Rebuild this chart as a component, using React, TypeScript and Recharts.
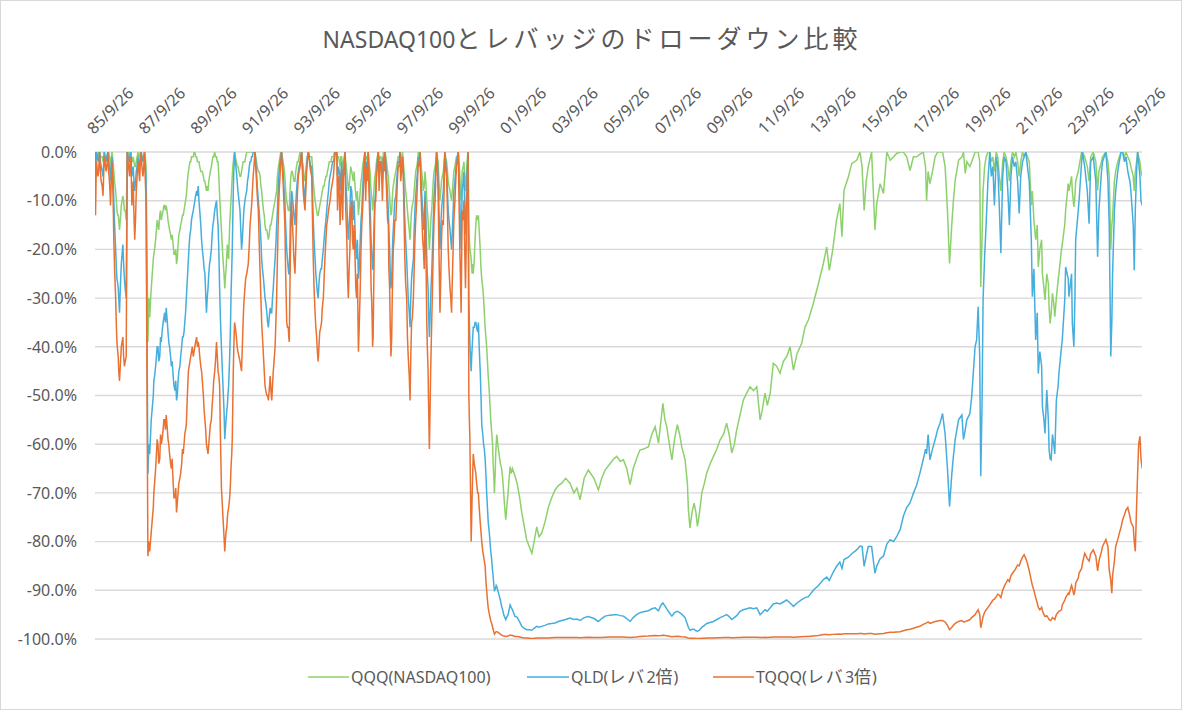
import React from 'react';
import { LineChart, Line, XAxis, YAxis, CartesianGrid } from 'recharts';

const FONT = "'Noto Sans', 'Noto Sans CJK JP', sans-serif";
const GREEN = '#8dd16c';
const BLUE = '#45aedd';
const ORANGE = '#e97132';
const TEXT = '#595959';

const dates = [
  1985.74,1985.76,1985.80,1985.86,1985.92,1985.98,1986.05,1986.10,1986.17,1986.24,
  1986.30,1986.34,1986.40,1986.47,1986.54,1986.59,1986.64,1986.69,1986.76,1986.82,
  1986.88,1986.95,1986.99,1987.04,1987.08,1987.13,1987.17,1987.22,1987.28,1987.34,
  1987.41,1987.47,1987.53,1987.60,1987.66,1987.72,
  1987.79,1987.83,1987.86,1987.92,1988.00,1988.05,1988.12,1988.18,1988.25,1988.31,
  1988.38,1988.44,1988.50,1988.57,1988.63,1988.70,1988.77,1988.84,1988.90,1988.96,
  1989.03,1989.10,1989.16,1989.22,1989.28,1989.36,1989.42,1989.48,1989.55,1989.61,
  1989.68,1989.74,1989.80,1989.87,1989.94,1990.00,1990.06,1990.12,1990.18,1990.25,
  1990.31,1990.38,1990.45,1990.51,1990.57,1990.64,1990.70,1990.77,1990.82,1990.87,
  1990.92,1990.96,1991.01,1991.06,1991.10,1991.15,1991.22,1991.28,1991.36,1991.42,
  1991.48,1991.55,1991.62,1991.68,1991.75,1991.81,1991.87,1991.94,
  1992.00,1992.07,1992.14,1992.20,1992.27,1992.33,1992.40,1992.46,1992.53,1992.59,
  1992.65,1992.72,1992.78,1992.81,1992.85,1992.91,1992.97,1993.03,1993.10,1993.17,
  1993.23,1993.27,1993.31,1993.36,1993.42,1993.49,1993.55,1993.62,1993.69,1993.75,
  1993.81,1993.88,1993.94,1994.01,1994.07,1994.14,1994.20,1994.27,1994.33,1994.39,
  1994.45,1994.52,1994.59,1994.65,1994.72,1994.79,1994.85,1994.92,1994.98,1995.05,
  1995.11,1995.18,1995.24,1995.30,1995.37,1995.43,1995.50,1995.56,1995.62,1995.69,
  1995.75,1995.82,1995.88,1995.95,1996.02,1996.08,1996.14,1996.20,1996.27,1996.33,
  1996.38,1996.42,1996.46,1996.50,1996.55,1996.59,1996.65,1996.72,1996.78,1996.85,
  1996.92,1996.98,1997.04,1997.11,1997.16,1997.21,1997.26,1997.30,1997.36,1997.43,
  1997.49,1997.56,1997.62,1997.69,1997.75,1997.82,1997.88,1997.95,1998.01,1998.08,
  1998.14,1998.21,1998.27,1998.34,1998.40,1998.47,1998.53,1998.60,1998.65,1998.70,
  1998.75,1998.79,1998.85,1998.92,1998.98,1999.04,1999.11,1999.17,1999.24,1999.30,
  1999.37,1999.43,1999.50,1999.56,1999.62,1999.69,1999.75,1999.82,1999.88,1999.93,
  1999.97,2000.04,2000.10,2000.15,2000.20,
  2000.23,2000.27,2000.32,2000.36,2000.40,2000.47,2000.53,2000.60,2000.67,2000.73,
  2000.80,2000.86,2000.92,2000.98,2001.05,2001.12,2001.17,2001.22,2001.27,2001.31,
  2001.40,2001.50,2001.58,2001.66,2001.75,2001.83,2001.92,2002.02,2002.10,2002.20,
  2002.28,2002.38,2002.47,2002.57,2002.67,2002.76,2002.86,2002.95,2003.05,2003.18,
  2003.31,2003.44,2003.57,2003.70,2003.83,2003.98,2004.15,2004.30,2004.42,2004.54,
  2004.70,2004.86,
  2005.08,2005.25,2005.38,2005.51,2005.70,2005.85,2005.96,2006.10,2006.22,2006.35,
  2006.48,2006.60,2006.73,2006.86,2007.00,2007.19,2007.32,2007.45,2007.58,2007.68,
  2007.75,2007.83,2007.90,2008.00,2008.10,2008.20,2008.31,2008.40,2008.48,2008.61,
  2008.70,2008.74,2008.80,2008.88,2008.96,2009.03,2009.09,2009.17,2009.26,2009.36,
  2009.45,2009.58,2009.71,2009.84,2009.97,2010.10,2010.22,2010.32,2010.42,2010.52,
  2010.61,2010.74,2010.87,2011.00,2011.13,2011.26,2011.39,2011.52,2011.60,2011.71,
  2011.80,2011.91,2012.03,2012.16,2012.29,2012.42,2012.55,2012.68,2012.81,2012.95,
  2013.13,2013.26,2013.39,2013.58,2013.78,2013.97,2014.10,2014.20,2014.33,2014.48,
  2014.61,2014.69,2014.77,2014.94,2015.07,2015.26,2015.39,2015.47,2015.55,2015.63,
  2015.71,2015.84,2015.97,2016.04,2016.17,2016.30,2016.43,2016.56,2016.69,2016.81,
  2016.95,2017.07,2017.20,2017.33,2017.46,2017.58,2017.71,2017.84,2017.93,2017.97,
  2018.03,2018.10,2018.20,2018.30,2018.40,2018.49,2018.59,2018.69,2018.78,2018.86,
  2018.95,2019.01,2019.08,2019.21,2019.34,2019.40,2019.47,2019.53,2019.65,2019.72,
  2019.85,2019.91,2019.97,
  2020.03,2020.07,2020.12,2020.16,2020.22,2020.28,2020.35,2020.42,2020.48,2020.54,
  2020.60,2020.67,2020.73,2020.79,2020.85,2020.92,2020.98,2021.05,2021.12,2021.18,
  2021.24,2021.30,2021.37,2021.43,2021.50,2021.56,2021.62,2021.69,2021.75,2021.82,
  2021.88,2021.95,2022.03,2022.07,2022.13,2022.20,2022.26,2022.30,2022.36,2022.43,
  2022.46,2022.52,2022.56,2022.63,2022.69,2022.72,2022.76,2022.80,2022.85,2022.90,
  2022.94,2023.00,2023.07,2023.10,2023.20,2023.23,2023.33,2023.36,2023.46,2023.49,
  2023.59,2023.62,2023.68,2023.72,2023.75,2023.85,2023.88,2023.98,2024.01,2024.10,
  2024.20,2024.27,2024.33,2024.43,2024.53,2024.60,2024.65,2024.75,2024.79,2024.92,
  2025.00,2025.05,2025.11,2025.15,2025.18,2025.25,2025.30,2025.38,2025.44,2025.51,
  2025.57,2025.64,2025.70,2025.77,2025.85,2025.89,2025.98,2026.02,2026.06,2026.11,
  2026.15,2026.19,2026.24,2026.28,2026.33,
];

const qqq = [
  0,-2,0,-1,0,-1,-2,0,-1,0,
  -1,-3,0,-4,-8,-12,-13,-16,-11,-9,
  -12,-14,0,0,-1,0,-2,-1,-3,-2,
  0,-1,0,-1,0,-3,
  -39,-30,-34,-28,-22,-20,-16,-15,-13,-14,
  -12,-11,-11,-14,-16,-18,-19,-21,-23,-19,
  -16,-14,-13,-11,-9,-4,-2,-1,-1,0,
  -1,-2,-3,-4,-5,-6,-8,-8,-5,-3,
  -1,0,-1,-2,-9,-16,-22,-28,-24,-19,
  -22,-15,-10,-5,-2,0,-2,-3,-5,-4,
  -2,-2,0,0,0,0,0,0,
  -2,-4,-5,-8,-12,-15,-16,-18,-15,-14,
  -12,-10,-8,-5,-3,-1,0,-2,-5,-10,
  -12,-12,-7,-4,-5,-6,-3,-2,0,0,
  -3,-6,-2,0,-1,-1,-6,-10,-12,-13,
  -11,-9,-7,-6,-5,-3,-2,-1,-1,0,
  0,-1,-3,-1,-2,0,-4,-8,-5,-4,
  -6,-7,-10,-13,-8,-5,-2,0,-1,0,
  -3,-6,-9,-12,-8,-5,-2,0,-1,-2,
  0,0,-2,-5,-9,-13,-10,-7,-5,-3,
  -1,0,-1,-2,-6,-10,-14,-18,-12,-10,
  -6,-3,0,0,-4,-8,-4,-10,-14,-20,
  -15,-12,-6,-3,0,-2,-10,-6,-4,0,
  -2,-6,-8,-10,-6,-3,-1,0,-5,-10,
  -4,-2,-8,-3,0,
  -15,-20,-22,-25,-25,-18,-13,-13,-20,-26,
  -30,-36,-40,-46,-52,-58,-64,-70,-62,-58,
  -62,-65,-70,-75.5,-70,-64.6,-65,-66.6,-68,-71,
  -74,-77,-79.6,-81,-82.4,-80,-77,-79,-78.3,-76,
  -73,-71,-69.4,-68.5,-68,-67,-68,-70,-69,-71.4,
  -67,-65.3,
  -67,-69.4,-67,-65.3,-64,-63,-62.5,-63.5,-63.2,-65,
  -68.3,-65,-63,-61.2,-61,-60.5,-58,-56.4,-59.8,-55,
  -51.6,-55,-56.4,-60,-63.2,-59,-56,-58,-60.5,-63.2,
  -68,-73.5,-77.2,-74,-72.1,-74,-76.9,-74,-70,-68,
  -65.9,-64,-62.5,-61,-59.1,-58,-55.7,-58,-61.8,-60,
  -57.1,-54,-50.9,-49.5,-48.2,-49,-48.2,-55,-53,-49.5,
  -52,-49.5,-43.4,-44,-45.4,-43,-42,-40,-44.8,-41.4,
  -39.3,-35.9,-34.5,-31.1,-27,-22.9,-19.5,-24.3,-20.2,-14,
  -10.6,-17.4,-7.9,-5.1,-2.4,-1.7,0,-3,-12,-6,
  -3,0,-16,-10.6,-6.5,-8.5,0,-1.7,-1,-0.3,
  0,0,-1,-3.8,-1,-1,-0.5,0,-3,-10,
  -4,-6.5,-4,-1,0,0,0,-3,-12,-22.9,
  -14.7,-10,-5.8,-1.7,-1,0,-4.4,-2,-3,-2,
  0,0,0,
  -2,-27.7,-18,-7.9,-3,-1,0,0,-2,-1,
  -4,0,-1,-5,-8,-2,0,-1,-3,-6,
  -2,0,-1,0,-2,-5,-2,0,-1,0,
  -1,-2,-11,-8,-14,-18,-15,-23.6,-20,-18,
  -25,-28,-30.4,-25,-27,-32,-35.2,-33,-29,-31,
  -33.8,-30,-26.3,-25,-20,-19,-14.7,-12,-6.5,-8,
  -5,-8,-11.3,-9,-6,-4,-3,0,0,-1,
  -3,-6,-1,0,-2,-7.9,-4,-2,-1,0,
  -2,-5,-20,-15,-13.3,-6,-4,-2,-1,0,
  0,-1,0,-1,-2,-3,-5,-8,-4,-2,
  0,-1,-2,-4,-5,
];

const qld = [
  0,-4,0,-2,0,-3,-5,0,-2,0,
  -3,-6,-1,-10,-20,-26,-28,-33,-23,-19,
  -26,-30,0,-1,-2,0,-5,-3,-8,-4,
  -1,-3,0,-2,0,-6,
  -66,-60,-62,-55,-50,-46,-42,-40,-42,-39,
  -35,-33,-32,-37,-40,-44,-46,-49,-51,-47,
  -44,-40,-38,-35,-30,-22,-17,-14,-12,-10,
  -8,-7,-12,-18,-22,-25,-33,-28,-23,-20,
  -15,-12,-10,-15,-28,-40,-48,-59,-55,-52,
  -48,-42,-30,-20,-8,0,-4,-8,-12,-20,
  -15,-10,-8,-5,-2,-1,0,0,
  -4,-10,-15,-22,-26,-30,-33,-36,-32,-33,
  -28,-22,-15,-12,-6,-2,0,-4,-10,-20,
  -24,-25,-14,-8,-11,-15,-8,-4,-2,0,
  -6,-10,-3,0,-2,-3,-14,-22,-27,-30,
  -25,-24,-20,-16,-12,-8,-5,-3,-2,0,
  0,-3,-8,-2,-4,0,-10,-18,-12,-8,
  -14,-16,-22,-26,-18,-12,-5,0,-2,0,
  -8,-14,-20,-24,-16,-10,-4,0,-2,-4,
  -1,0,-5,-12,-20,-28,-22,-16,-10,-6,
  -2,0,-3,-4,-14,-22,-30,-36,-26,-22,
  -12,-6,-1,0,-8,-16,-8,-22,-28,-38,
  -30,-25,-14,-6,0,-5,-20,-12,-8,0,
  -4,-12,-16,-20,-12,-6,-2,0,-10,-20,
  -8,-4,-17,-6,0,
  -30,-39,-45,-40,-36,-35,-36,-35,-45,-56,
  -60,-63,-70,-76,-80,-84,-87,-90,-89.5,-89.2,
  -91,-93.3,-95,-96,-95,-93,-94,-95.4,-95.5,-96.5,
  -97.4,-97.8,-98.1,-98.1,-98.2,-97.8,-97.4,-97.6,-97.4,-97.2,
  -96.9,-96.8,-96.7,-96.4,-96.2,-96,-95.7,-96,-95.9,-96.2,
  -95.6,-95.4,
  -95.8,-96.4,-95.8,-95.3,-95.1,-95,-95,-95.2,-95.3,-95.8,
  -96.4,-95.6,-95,-94.6,-94.4,-94.2,-93.8,-93.6,-94.2,-93,
  -92.6,-93.2,-93.8,-94.6,-95.3,-94.6,-94.3,-94.6,-94.9,-95.6,
  -97,-97.6,-98.2,-98,-98,-98.3,-98.4,-98.2,-97.6,-97.2,
  -96.8,-96.6,-96.4,-96,-95.6,-95.3,-95,-95.4,-96,-95.6,
  -95.2,-94.3,-94,-93.8,-93.6,-93.8,-93.6,-95,-94.6,-94,
  -94.3,-93.6,-92.8,-92.6,-92.8,-92.4,-92,-92.6,-93.3,-92.6,
  -91.9,-91.5,-91.3,-90,-89,-87.8,-87.3,-88,-86.5,-85.1,
  -84.2,-85.5,-83.7,-83.2,-82.5,-81.7,-80.9,-81,-85.1,-83,
  -81,-81,-86.5,-85,-83.5,-83,-80.5,-79.6,-80,-79,
  -77.5,-74.8,-73,-72,-70.1,-68.5,-66,-63.2,-61,-62,
  -58,-63.2,-61,-59.1,-57,-55.7,-53.7,-58,-65,-72.8,
  -66,-62.5,-59,-55,-54,-59,-57,-55,-53.7,-50.2,
  -40,-38.6,-31.8,
  -42,-66.6,-52,-30.4,-21.5,-14.7,-5.8,0,-5,-3,
  -11,-1,-3,-11.3,-20.8,-5,-1,-2,-8,-15,
  -5,-1,-3,-2,-6,-12.6,-5,-2,-1,0,
  -3,-6,-18,-29.7,-24,-38.6,-33,-45.5,-41,-44,
  -52.3,-55,-57.8,-48.9,-55,-61.2,-63,-63.2,-58,-60,
  -62,-51,-48,-45.5,-40,-38.6,-30,-23.6,-26,-29.7,
  -25,-35.2,-40,-30,-18,-12,-10,-2,0,-3,
  -8,-14.7,-2,-1,-6,-21.5,-12,-4,-2,0,
  -6,-15,-42,-35,-25,-12,-8,-4,-2,0,
  0,-2,-1,-4,-6,-8,-15,-24.3,-12,-4,
  0,-2,-5,-10,-11,
];

const tqqq = [
  0,-13,-2,-5,0,-6,-9,-1,-4,0,
  -6,-11,-2,-18,-30,-39,-42,-47,-40,-38,
  -44,-42,0,-3,-5,-1,-11,-6,-18,-8,
  -2,-6,0,-5,0,-10,
  -83,-80,-82,-78,-73,-68,-62,-60,-63,-60,
  -57,-55,-54,-59,-62,-65,-68,-71,-74,-70,
  -67,-64,-62,-58,-56,-45,-43,-41,-42,-40,
  -38,-39,-42,-45,-50,-55,-60,-62,-58,-55,
  -50,-45,-39,-45,-48,-69,-75,-82,-78,-75,
  -73,-71,-65,-59,-45,-35,-38,-41,-43,-45,
  -35,-28,-25,-23,-15,-11,-5,0,
  -6,-12,-25,-35,-42,-48,-50,-51,-46,-51,
  -45,-40,-30,-22,-12,-5,0,-6,-15,-35,
  -36,-39,-22,-10,-18,-25,-14,-5,-3,0,
  -8,-12,-4,0,-3,-5,-22,-33,-38,-43,
  -37,-35,-30,-22,-15,-12,-10,-7,-5,0,
  0,-5,-15,-3,-5,0,-18,-30,-20,-10,
  -20,-22,-30,-41,-28,-15,-8,0,-3,0,
  -12,-20,-30,-40,-25,-10,-5,0,-3,-5,
  -1,0,-8,-15,-28,-42,-30,-20,-14,-10,
  -3,0,-4,-5,-22,-30,-42,-51,-35,-30,
  -18,-10,-2,0,-12,-20,-10,-35,-45,-61,
  -45,-35,-20,-10,0,-8,-33,-18,-15,0,
  -5,-20,-28,-33,-20,-10,-3,0,-20,-33,
  -12,-10,-28,-10,0,
  -50,-59,-80,-70,-62,-65,-68,-70,-76,-80,
  -83,-85,-90,-93.6,-95.5,-96.9,-98,-99,-98.6,-98.5,
  -98.8,-99.2,-99.4,-99.5,-99.4,-99.2,-99.3,-99.5,-99.5,-99.6,
  -99.7,-99.8,-99.8,-99.85,-99.9,-99.85,-99.8,-99.8,-99.8,-99.8,
  -99.8,-99.75,-99.7,-99.7,-99.7,-99.7,-99.7,-99.7,-99.7,-99.75,
  -99.7,-99.65,
  -99.7,-99.7,-99.7,-99.65,-99.6,-99.6,-99.6,-99.6,-99.6,-99.65,
  -99.7,-99.65,-99.6,-99.5,-99.45,-99.4,-99.35,-99.3,-99.35,-99.3,
  -99.25,-99.3,-99.35,-99.45,-99.55,-99.5,-99.45,-99.5,-99.55,-99.6,
  -99.75,-99.8,-99.85,-99.85,-99.85,-99.9,-99.9,-99.9,-99.85,-99.85,
  -99.8,-99.8,-99.8,-99.75,-99.75,-99.7,-99.7,-99.7,-99.75,-99.72,
  -99.7,-99.68,-99.65,-99.65,-99.62,-99.63,-99.62,-99.7,-99.68,-99.65,
  -99.67,-99.64,-99.6,-99.6,-99.6,-99.6,-99.6,-99.6,-99.65,-99.6,
  -99.55,-99.5,-99.5,-99.4,-99.3,-99.1,-99.1,-99.15,-99.05,-99,
  -98.95,-99,-98.9,-98.9,-98.9,-98.9,-98.85,-98.85,-98.95,-98.9,
  -98.85,-98.85,-99,-98.95,-98.9,-98.85,-98.7,-98.6,-98.6,-98.55,
  -98.5,-98.3,-98.1,-98,-97.8,-97.6,-97.4,-97,-96.8,-96.7,
  -96.5,-96.8,-96.6,-96.4,-96.3,-96.2,-96.2,-96.5,-97.2,-98.1,
  -97.6,-97.2,-96.8,-96.4,-96.2,-96.5,-96.4,-96.3,-96,-95.6,
  -95,-94.5,-94,
  -95,-97.7,-96.5,-95.4,-94.5,-94,-93.5,-93,-92.5,-92,
  -91.8,-91.3,-90.8,-91,-91.5,-90,-89.2,-88.5,-87.8,-88.2,
  -87,-86.5,-86,-85.5,-84.8,-85,-84,-83.2,-82.7,-83.5,
  -84.5,-86,-88,-89,-90,-91.5,-92.6,-93.5,-94,-93.5,
  -94.2,-95,-95.4,-95.2,-95.7,-96,-96.2,-96.1,-95.6,-95.8,
  -96,-95,-94.5,-94.3,-94,-93,-92,-91.5,-90.6,-90.8,
  -89,-89.5,-91,-90,-88.5,-87.5,-86.5,-85.5,-84.5,-82.4,
  -83.5,-84,-82.5,-81.7,-83,-86,-84,-82,-81,-79.6,
  -81,-85.8,-88,-90.6,-87,-84,-81,-79.6,-78.3,-77,
  -75.5,-74.5,-73.5,-73,-74.8,-76,-77,-80,-82,-72.8,
  -66,-60,-58.4,-63,-65,
];

// Extra readings of the short-term swings (1985-2001)
const detailDates = [
  1985.78,1985.83,1985.89,1985.95,1986.02,1986.08,1986.13,1986.20,1986.27,1986.32,
  1986.37,1986.44,1986.50,1986.57,1986.62,1986.66,1986.72,1986.79,1986.85,1986.91,
  1986.97,1987.02,1987.06,1987.10,1987.15,1987.19,1987.25,1987.31,1987.37,1987.44,
  1987.50,1987.56,1987.63,1987.69,
  1988.02,1988.09,1988.15,1988.21,1988.28,1988.34,1988.41,1988.47,1988.53,1988.60,
  1988.67,1988.73,1988.80,1988.87,1988.93,1988.99,1989.06,1989.13,1989.19,1989.25,
  1989.32,1989.39,1989.45,1989.51,1989.58,1989.64,1989.71,1989.77,1989.84,1989.90,
  1989.97,1990.03,1990.09,1990.15,1990.21,1990.28,1990.34,1990.41,1990.48,1990.54,
  1990.60,1990.67,1990.74,1990.79,1990.85,1990.89,1990.94,1990.99,1991.04,1991.08,
  1991.12,1991.18,1991.25,1991.32,1991.39,1991.45,1991.51,1991.58,1991.65,1991.72,
  1991.78,1991.84,1991.90,
  1992.03,1992.10,1992.17,1992.23,1992.30,1992.36,1992.43,1992.49,1992.56,1992.62,
  1992.68,1992.75,1992.88,1992.94,1993.00,1993.06,1993.13,1993.20,1993.25,1993.29,
  1993.33,1993.39,1993.45,1993.52,1993.58,1993.65,1993.72,1993.78,1993.84,1993.91,
  1993.97,1994.04,1994.10,1994.17,1994.23,1994.30,1994.36,1994.42,1994.49,1994.55,
  1994.62,1994.69,1994.75,1994.82,1994.89,1994.95,1995.02,
  1995.14,1995.21,1995.27,1995.34,1995.40,1995.46,1995.53,1995.59,1995.65,1995.72,
  1995.78,1995.85,1995.91,1995.98,1996.05,1996.11,1996.17,1996.23,1996.30,1996.36,
  1996.40,1996.44,1996.48,1996.52,1996.57,1996.62,1996.68,1996.75,1996.82,1996.88,
  1996.95,1997.01,1997.08,1997.13,1997.18,1997.24,1997.28,1997.33,1997.40,1997.46,
  1997.53,1997.59,1997.66,1997.72,1997.78,1997.85,1997.92,1997.98,1998.04,1998.11,
  1998.17,1998.24,1998.30,1998.37,1998.44,1998.50,1998.56,1998.62,1998.67,1998.72,
  1998.77,1998.82,1998.88,1998.95,1999.01,1999.07,1999.14,1999.20,1999.27,1999.33,
  1999.40,1999.46,1999.53,1999.59,1999.65,1999.72,1999.78,1999.85,1999.905,1999.95,
  2000.01,2000.07,2000.125,2000.175,
  2000.25,2000.30,2000.34,2000.38,2000.44,2000.50,2000.57,2000.63,2000.70,2000.77,
  2000.83,2000.89,2000.95,2001.02,2001.08,2001.15,2001.20,2001.25,2001.29,2001.35,
  2001.45,2001.54,2001.62,2001.70,2001.79,2001.87,
];

const detailQqq = [
  -1,-1,0,-1,-1,-1,-1,-1,0,-2,
  -1,-2,-6,-10,-13,-14,-14,-10,-10,-12,
  -7,0,-1,0,-1,-2,-2,-3,-1,-1,
  0,-1,-1,-1,
  -21,-18,-14,-16,-12,-13,-11,-12,-12,-15,
  -17,-17,-21,-20,-22,-17,-15,-13,-12,-10,
  -6,-3,-2,-1,0,-1,-2,-2,-4,-4,
  -6,-7,-7,-6,-4,-2,-1,-1,-2,-5,
  -12,-19,-25,-26,-21,-21,-18,-12,-7,-3,
  -1,-1,-3,-4,-5,-3,-2,-1,0,0,
  0,0,0,
  -3,-4,-7,-10,-13,-16,-17,-17,-15,-13,
  -11,-9,-2,0,-1,-3,-8,-11,-12,-9,
  -5,-4,-6,-4,-2,-1,0,-2,-5,-4,
  -1,-1,-1,-3,-8,-11,-13,-12,-10,-8,
  -7,-5,-4,-2,-2,-1,0,
  -1,-2,-1,-3,-1,-2,-6,-7,-3,-5,
  -4,-9,-8,-11,-6,-3,-1,-2,-1,-2,
  -4,-8,-10,-11,-6,-4,-1,-2,-1,-3,
  -1,-1,-4,-7,-11,-12,-8,-6,-4,-2,
  -1,-2,0,-4,-8,-12,-16,-15,-11,-8,
  -4,-2,-1,-2,-6,-7,-6,-12,-17,-18,
  -13,-9,-4,-2,-1,-6,-8,-5,-2,-1,
  -4,-7,-9,-8,-4,-2,-1,-2,-8,-7,
  -3,-5,-6,-1,
  -18,-21,-24,-23,-22,-15,-14,-16,-24,-28,
  -33,-38,-43,-49,-55,-60,-67,-66,-60,-60,
  -64,-67,-73,-73,-67,-66,
];

const detailQld = [
  -2,-1,-1,-2,-4,-2,-1,-1,-2,-4,
  -3,-5,-15,-24,-27,-30,-28,-21,-23,-28,
  -15,-1,-2,-1,-3,-4,-6,-6,-3,-2,
  -1,-1,-1,-3,
  -47,-44,-40,-43,-38,-37,-34,-35,-34,-39,
  -42,-43,-48,-47,-50,-45,-42,-38,-37,-33,
  -26,-19,-16,-13,-11,-9,-9,-10,-15,-20,
  -24,-29,-30,-25,-22,-17,-14,-11,-13,-20,
  -34,-44,-53,-57,-53,-50,-45,-36,-24,-14,
  -4,-2,-6,-10,-16,-18,-12,-9,-6,-3,
  -2,-1,0,
  -7,-12,-18,-24,-28,-31,-35,-34,-33,-30,
  -25,-19,-4,-1,-2,-7,-15,-22,-25,-20,
  -11,-9,-13,-11,-6,-3,-1,-3,-8,-6,
  -1,-1,-3,-8,-18,-25,-29,-27,-24,-22,
  -18,-14,-10,-6,-4,-2,-1,
  -5,-4,-5,-7,-2,-6,-15,-15,-7,-12,
  -10,-20,-18,-24,-14,-8,-2,-6,-3,-5,
  -10,-18,-22,-24,-12,-8,-2,-5,-2,-6,
  -3,-2,-9,-16,-24,-26,-18,-13,-9,-4,
  -2,-4,-1,-9,-18,-26,-33,-30,-24,-16,
  -9,-4,-2,-5,-12,-14,-12,-25,-33,-35,
  -27,-20,-9,-3,-2,-12,-16,-10,-4,-2,
  -8,-14,-18,-16,-8,-4,-1,-5,-15,-14,
  -6,-12,-12,-3,
  -35,-43,-42,-38,-36,-35,-37,-40,-50,-58,
  -61,-66,-73,-78,-82,-86,-89,-89.8,-89,-90,
  -92,-94,-95.5,-95.5,-94,-93.5,
];

const detailTqqq = [
  -6,-4,-3,-4,-7,-4,-2,-3,-4,-8,
  -6,-9,-24,-36,-41,-45,-44,-39,-42,-43,
  -20,-2,-4,-2,-6,-9,-13,-14,-5,-4,
  -2,-3,-3,-6,
  -70,-65,-59,-64,-58,-59,-55,-57,-56,-60,
  -64,-63,-71,-69,-72,-68,-66,-61,-60,-57,
  -50,-44,-42,-40,-41,-39,-40,-40,-44,-47,
  -53,-57,-61,-60,-56,-52,-47,-43,-42,-46,
  -58,-72,-79,-80,-77,-74,-72,-68,-62,-52,
  -40,-36,-40,-42,-44,-40,-31,-26,-24,-19,
  -13,-8,-3,
  -9,-18,-30,-38,-45,-49,-50,-49,-49,-48,
  -43,-35,-8,-2,-3,-10,-25,-36,-38,-30,
  -16,-14,-22,-20,-9,-4,-1,-4,-10,-8,
  -2,-1,-4,-14,-28,-36,-41,-40,-36,-32,
  -26,-18,-14,-11,-8,-6,-2,
  -12,-8,-10,-14,-4,-12,-26,-24,-12,-18,
  -15,-28,-25,-36,-20,-12,-4,-10,-6,-8,
  -16,-28,-34,-38,-16,-10,-3,-8,-2,-10,
  -4,-4,-14,-24,-35,-38,-25,-18,-14,-6,
  -3,-6,-1,-14,-27,-38,-46,-42,-34,-24,
  -14,-6,-3,-8,-18,-24,-18,-40,-52,-55,
  -40,-28,-14,-5,-3,-20,-26,-14,-8,-3,
  -12,-24,-30,-26,-14,-6,-2,-10,-26,-22,
  -14,-20,-20,-5,
  -55,-72,-75,-66,-64,-66,-70,-73,-78,-82,
  -84,-88,-92,-94.8,-96.3,-97.6,-98.6,-98.8,-98.5,-98.6,
  -99,-99.3,-99.45,-99.45,-99.3,-99.25,
];

const xTicks = [
  1985.74, 1987.74, 1989.74, 1991.74, 1993.74, 1995.74, 1997.74, 1999.74, 2001.74, 2003.74, 2005.74,
  2007.74, 2009.74, 2011.74, 2013.74, 2015.74, 2017.74, 2019.74, 2021.74, 2023.74, 2025.74,
];
const xTickLabels = [
  '85/9/26', '87/9/26', '89/9/26', '91/9/26', '93/9/26', '95/9/26', '97/9/26', '99/9/26', '01/9/26', '03/9/26', '05/9/26',
  '07/9/26', '09/9/26', '11/9/26', '13/9/26', '15/9/26', '17/9/26', '19/9/26', '21/9/26', '23/9/26', '25/9/26',
];
const yTicks = [0, -10, -20, -30, -40, -50, -60, -70, -80, -90, -100];

const seriesNames = ['QQQ(NASDAQ100)', 'QLD(レバ2倍)', 'TQQQ(レバ3倍)'];
const titleText = ['NASDAQ100', 'とレバッジのドローダウン比較'];

const data = [
  ...dates.map((t, i) => ({ t, qqq: qqq[i], qld: qld[i], tqqq: tqqq[i] })),
  ...detailDates.map((t, i) => ({ t, qqq: detailQqq[i], qld: detailQld[i], tqqq: detailTqqq[i] })),
].sort((a, b) => a.t - b.t);

const XTick = (props: any) => {
  const { x, payload } = props;
  const i = xTicks.findIndex((v) => Math.abs(v - payload.value) < 0.001);
  const label = i >= 0 ? xTickLabels[i] : '';
  const bx = x - 1;
  const by = 135;
  return (
    <text x={bx} y={by} transform={`rotate(-45 ${bx} ${by})`} textAnchor="start" fontSize={16} fill={TEXT} fontFamily={FONT}>
      {label}
    </text>
  );
};

const YTick = (props: any) => {
  const { y, payload } = props;
  return (
    <text x={77} y={y} dy="0.36em" textAnchor="end" fontSize={16} fill={TEXT} fontFamily={FONT}>
      {`${Number(payload.value).toFixed(1)}%`}
    </text>
  );
};

export default function App() {
  return (
    <div style={{ position: 'absolute', left: 0, top: 0, width: 1182, height: 710, background: '#ffffff', overflow: 'hidden' }}>
      <div style={{ position: 'absolute', left: 0, top: 0 }}>
        <LineChart width={1182} height={710} data={data} margin={{ top: 0, right: 40, bottom: 71, left: 0 }}>
          <CartesianGrid vertical={false} stroke="#d9d9d9" strokeWidth={1.4} />
          <XAxis
            dataKey="t"
            type="number"
            orientation="top"
            domain={[1985.74, 2026.32]}
            ticks={xTicks}
            interval={0}
            height={152}
            axisLine={false}
            tickLine={false}
            tick={<XTick />}
            allowDataOverflow
          />
          <YAxis
            type="number"
            domain={[-100, 0]}
            ticks={yTicks}
            interval={0}
            width={95}
            axisLine={false}
            tickLine={false}
            tick={<YTick />}
            allowDataOverflow
          />
          <Line type="linear" dataKey="qqq" stroke={GREEN} strokeWidth={1.5} dot={false} isAnimationActive={false} />
          <Line type="linear" dataKey="qld" stroke={BLUE} strokeWidth={1.5} dot={false} isAnimationActive={false} />
          <Line type="linear" dataKey="tqqq" stroke={ORANGE} strokeWidth={1.5} dot={false} isAnimationActive={false} />
        </LineChart>
      </div>
      <svg width={1182} height={710} style={{ position: 'absolute', left: 0, top: 0, pointerEvents: 'none' }}>
        <rect x={0.5} y={0.5} width={1181} height={709} fill="none" stroke="#d9d9d9" />
        <text x={592} y={48} textAnchor="middle" fontSize={23} fill={TEXT} fontFamily={FONT}>
          <tspan>{titleText[0]}</tspan>
          <tspan fontSize={25} letterSpacing={4}>{titleText[1]}</tspan>
        </text>
        <line x1={308} x2={349} y1={677} y2={677} stroke={GREEN} strokeWidth={1.5} />
        <text x={351} y={683} fontSize={16} fill={TEXT} fontFamily={FONT}>{seriesNames[0]}</text>
        <line x1={527} x2={569} y1={677} y2={677} stroke={BLUE} strokeWidth={1.5} />
        <text x={571} y={683} fontSize={16} fill={TEXT} fontFamily={FONT}>
          QLD(<tspan fontSize={17} letterSpacing={2}>レバ</tspan>2<tspan fontSize={17} letterSpacing={1}>倍</tspan>)
        </text>
        <line x1={713} x2={754} y1={677} y2={677} stroke={ORANGE} strokeWidth={1.5} />
        <text x={756} y={683} fontSize={16} fill={TEXT} fontFamily={FONT}>
          TQQQ(<tspan fontSize={17} letterSpacing={2}>レバ</tspan>3<tspan fontSize={17} letterSpacing={1}>倍</tspan>)
        </text>
      </svg>
    </div>
  );
}
